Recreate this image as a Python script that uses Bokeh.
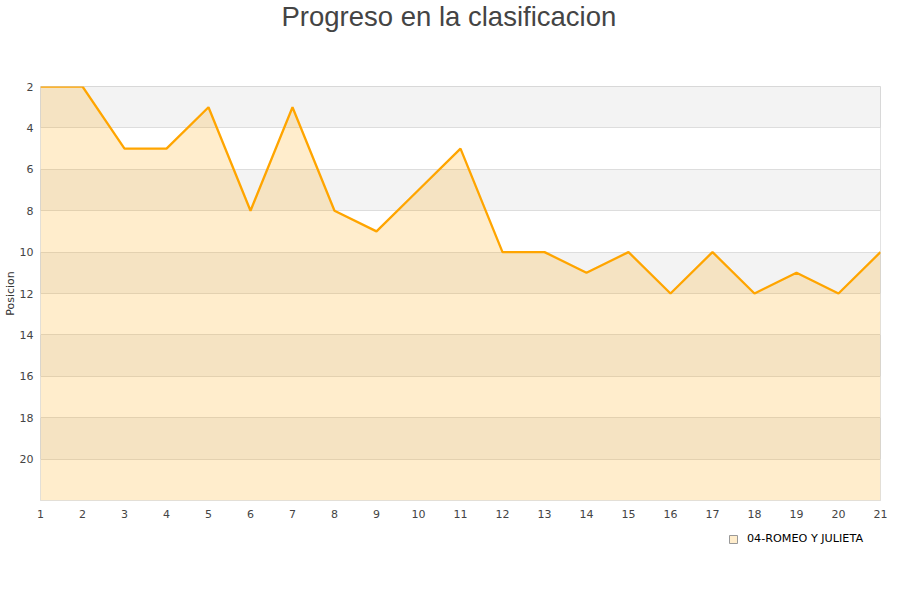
from bokeh.plotting import figure
from bokeh.layouts import column
from bokeh.models import Range1d, FixedTicker, Legend, LegendItem, ColumnDataSource, Title
from bokeh.embed import file_html
from bokeh.resources import INLINE

jornadas = list(range(1, 22))
posiciones = [2, 2, 5, 5, 3, 8, 3, 8, 9, 7, 5, 10, 10, 11, 10, 12, 10, 12, 11, 12, 10]
serie = "04-ROMEO Y JULIETA"
titulo = "Progreso en la clasificacion"
y_ticks = [2, 4, 6, 8, 10, 12, 14, 16, 18, 20]
y_bottom = 22

src = ColumnDataSource(dict(x=jornadas, y=posiciones, base=[y_bottom] * len(jornadas)))

p = figure(width=892, height=525, output_backend="svg", toolbar_location=None, title=None,
           x_range=Range1d(1, 21), y_range=Range1d(y_bottom, 2),
           min_border_left=40, min_border_right=12, min_border_top=86, min_border_bottom=25)

# spacer between frame and title (closest to the frame), then the title itself
spacer = Title(text=" ", text_font_size="1px", standoff=50)
p.add_layout(spacer, "above")
main_title = Title(text=titulo, align="left", offset=241, vertical_align="top", standoff=0,
                   text_font="Liberation Sans", text_font_size="27.5px",
                   text_font_style="normal", text_color="#444444")
p.add_layout(main_title, "above")

p.outline_line_color = "#d8d8d8"
p.background_fill_color = "#f3f3f3"
p.border_fill_color = "white"

p.xgrid.grid_line_color = None
p.ygrid.ticker = FixedTicker(ticks=y_ticks + [y_bottom])
p.ygrid.grid_line_color = "#dddddd"
p.ygrid.band_fill_color = "white"
p.ygrid.band_fill_alpha = 1.0

p.xaxis.ticker = FixedTicker(ticks=jornadas)
p.yaxis.ticker = FixedTicker(ticks=y_ticks)
for ax in (p.xaxis, p.yaxis):
    ax.axis_line_color = None
    ax.major_tick_line_color = None
    ax.minor_tick_line_color = None
    ax.major_tick_out = 0
    ax.major_tick_in = 0
    ax.minor_tick_out = 0
    ax.major_label_text_font = "DejaVu Sans"
    ax.major_label_text_font_size = "11px"
    ax.major_label_text_color = "#444444"
p.yaxis.axis_label = "Posicion"
p.yaxis.axis_label_text_font = "DejaVu Sans"
p.yaxis.axis_label_text_font_size = "11px"
p.yaxis.axis_label_text_font_style = "normal"
p.yaxis.axis_label_text_color = "#333333"
p.yaxis.axis_label_standoff = 0
p.yaxis.major_label_standoff = 7
p.xaxis.major_label_standoff = 9

p.varea(x="x", y1="y", y2="base", source=src, fill_color="#ffa500", fill_alpha=0.2)
p.line(x="x", y="y", source=src, line_color="#ffa500", line_width=2.3)

# legend strip below the chart (its frame is aligned with the chart's frame)
p2 = figure(width=892, height=45, output_backend="svg", toolbar_location=None,
            x_range=Range1d(100, 101), y_range=Range1d(100, 101),
            min_border=0, outline_line_color=None)
p2.axis.visible = False
p2.grid.visible = False
swatch = p2.quad(left="x", right="x", top="y", bottom="base", source=src,
                 fill_color="#ffa500", fill_alpha=0.2, line_color="#999999", line_width=1)
legend = Legend(items=[LegendItem(label=serie, renderers=[swatch])],
                location=(688, 25), orientation="horizontal",
                border_line_color=None, background_fill_alpha=0,
                label_text_font="DejaVu Sans", label_text_font_size="11.2px",
                label_text_color="#000000", glyph_width=10, glyph_height=10,
                margin=0, padding=4, label_standoff=9)
p2.add_layout(legend, "center")

open("out.html", "w").write(file_html(column(p, p2, spacing=0), INLINE))
